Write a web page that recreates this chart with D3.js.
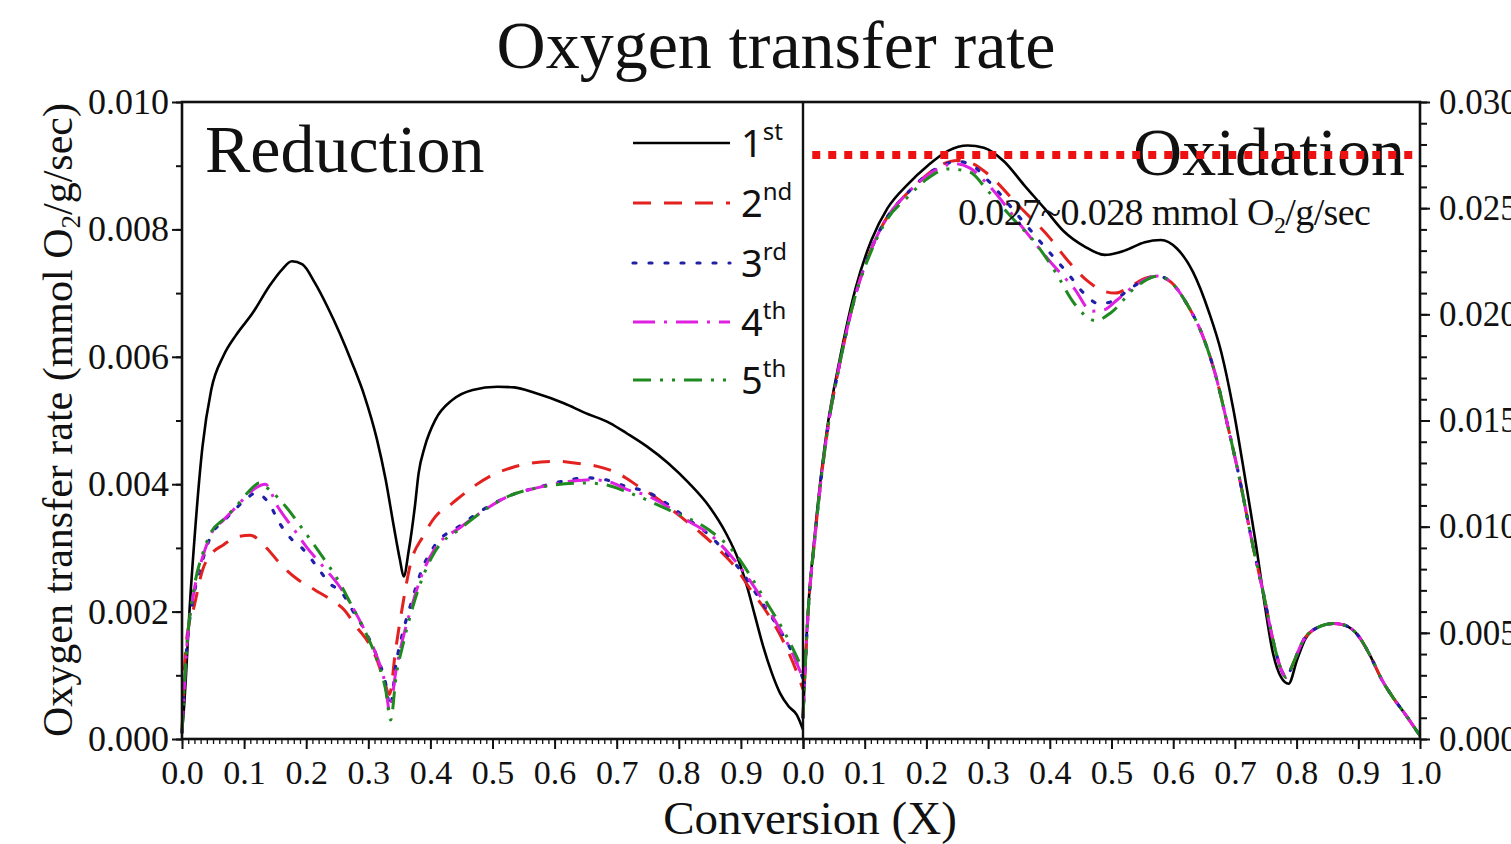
<!DOCTYPE html>
<html>
<head>
<meta charset="utf-8">
<script src="https://cdn.jsdelivr.net/npm/d3@7"></script>
<style>
  body { margin: 0; background: #fff; }
  svg { display: block; }
</style>
</head>
<body>
<svg id="chart" width="1511" height="844" font-family="'Liberation Serif', 'Times New Roman', serif"></svg>
<script>
// rates in 1e-3 mmol O2/g/sec, conversion X in 0..1
const reduction1st = [[0,0.1],[0.004,0.6],[0.0067,1.05],[0.012,2.0],[0.02,3.13],[0.033,4.59],[0.047,5.48],[0.067,6.02],[0.087,6.34],[0.114,6.69],[0.14,7.1],[0.161,7.37],[0.177,7.5],[0.194,7.45],[0.214,7.16],[0.234,6.79],[0.254,6.37],[0.274,5.9],[0.294,5.38],[0.314,4.7],[0.328,4.07],[0.341,3.34],[0.351,2.81],[0.357,2.55],[0.365,2.95],[0.375,3.65],[0.381,4.17],[0.391,4.59],[0.408,5.01],[0.435,5.32],[0.468,5.48],[0.508,5.53],[0.535,5.52],[0.569,5.43],[0.615,5.27],[0.649,5.12],[0.689,4.96],[0.716,4.8],[0.749,4.59],[0.783,4.33],[0.816,4.02],[0.849,3.65],[0.876,3.23],[0.896,2.81],[0.91,2.39],[0.923,1.92],[0.936,1.45],[0.95,1.03],[0.963,0.72],[0.977,0.51],[0.99,0.38],[1.0,0.15]];
const reduction2nd = [[0,0.1],[0.0067,1.5],[0.02,2.1],[0.033,2.65],[0.047,2.9],[0.067,3.05],[0.087,3.17],[0.11,3.2],[0.134,3.02],[0.161,2.72],[0.187,2.5],[0.214,2.34],[0.241,2.18],[0.261,2.03],[0.281,1.76],[0.301,1.5],[0.314,1.24],[0.326,0.9],[0.334,0.7],[0.344,1.4],[0.355,2.08],[0.368,2.75],[0.388,3.18],[0.408,3.49],[0.435,3.7],[0.462,3.91],[0.495,4.12],[0.528,4.25],[0.562,4.33],[0.602,4.36],[0.635,4.33],[0.669,4.28],[0.702,4.17],[0.736,3.96],[0.769,3.75],[0.803,3.49],[0.836,3.23],[0.87,2.92],[0.89,2.71],[0.916,2.34],[0.943,1.97],[0.97,1.5],[0.99,1.05],[1.0,0.78]];
const reduction3rd = [[0,0.1],[0.0067,1.3],[0.02,2.3],[0.033,2.8],[0.047,3.2],[0.067,3.42],[0.087,3.62],[0.107,3.8],[0.118,3.86],[0.14,3.7],[0.157,3.39],[0.177,3.13],[0.194,2.99],[0.217,2.71],[0.237,2.45],[0.258,2.29],[0.274,2.03],[0.294,1.71],[0.314,1.29],[0.328,0.87],[0.335,0.5],[0.345,1.2],[0.355,1.65],[0.368,2.1],[0.388,2.7],[0.408,3.05],[0.448,3.35],[0.488,3.62],[0.528,3.82],[0.569,3.94],[0.615,4.05],[0.649,4.1],[0.682,4.07],[0.716,3.96],[0.749,3.88],[0.783,3.68],[0.816,3.44],[0.849,3.2],[0.876,2.92],[0.903,2.6],[0.93,2.2],[0.957,1.8],[0.983,1.35],[1.0,0.95]];
const reduction4th = [[0,0.1],[0.0067,1.3],[0.02,2.35],[0.033,2.85],[0.047,3.22],[0.067,3.44],[0.087,3.64],[0.107,3.85],[0.12,3.95],[0.134,4.0],[0.154,3.65],[0.181,3.28],[0.2,3.02],[0.227,2.71],[0.254,2.39],[0.274,2.08],[0.294,1.71],[0.314,1.29],[0.328,0.82],[0.334,0.45],[0.345,1.1],[0.355,1.55],[0.368,2.02],[0.388,2.62],[0.408,3.0],[0.448,3.32],[0.488,3.6],[0.528,3.82],[0.575,3.95],[0.63,4.05],[0.66,4.07],[0.69,4.03],[0.716,3.92],[0.749,3.82],[0.783,3.64],[0.816,3.42],[0.849,3.22],[0.88,2.92],[0.91,2.55],[0.937,2.15],[0.963,1.72],[0.985,1.3],[1.0,0.95]];
const reduction5th = [[0,0.1],[0.0067,1.3],[0.02,2.4],[0.033,2.9],[0.047,3.25],[0.067,3.45],[0.087,3.65],[0.107,3.88],[0.125,4.02],[0.14,3.92],[0.167,3.65],[0.194,3.3],[0.227,2.85],[0.254,2.45],[0.274,2.08],[0.294,1.71],[0.314,1.24],[0.328,0.77],[0.336,0.3],[0.345,1.0],[0.355,1.45],[0.368,1.95],[0.388,2.55],[0.408,2.95],[0.448,3.3],[0.488,3.6],[0.528,3.82],[0.582,3.96],[0.649,4.02],[0.682,3.99],[0.716,3.88],[0.783,3.6],[0.849,3.28],[0.89,2.92],[0.916,2.55],[0.943,2.12],[0.97,1.68],[1.0,1.08]];

const oxidation1st = [[0,1.0],[0.0065,5.25],[0.02,9.9],[0.039,14.6],[0.059,17.8],[0.085,21.2],[0.111,23.5],[0.137,25.0],[0.169,26.1],[0.202,27.0],[0.235,27.7],[0.267,27.95],[0.293,27.85],[0.326,27.2],[0.358,26.1],[0.391,25.0],[0.423,23.9],[0.456,23.2],[0.489,22.8],[0.521,23.0],[0.554,23.4],[0.58,23.5],[0.606,23.1],[0.632,22.0],[0.658,20.1],[0.678,18.2],[0.697,15.6],[0.717,12.2],[0.736,8.8],[0.749,6.2],[0.762,4.0],[0.775,2.9],[0.787,2.6],[0.801,3.75],[0.814,4.7],[0.834,5.25],[0.86,5.44],[0.879,5.35],[0.899,4.9],[0.919,3.94],[0.938,2.8],[0.958,1.88],[0.977,1.13],[1.0,0.15]];
const oxidation2nd = [[0,1.0],[0.0065,5.1],[0.02,9.7],[0.039,14.4],[0.059,17.6],[0.085,20.9],[0.111,23.1],[0.137,24.6],[0.169,25.7],[0.202,26.6],[0.225,27.05],[0.25,27.25],[0.275,27.1],[0.3,26.6],[0.35,25.1],[0.4,23.6],[0.43,22.5],[0.46,21.6],[0.487,21.1],[0.506,21.0],[0.53,21.3],[0.555,21.7],[0.575,21.8],[0.597,21.5],[0.623,20.45],[0.649,18.9],[0.669,17.1],[0.688,14.8],[0.708,12.2],[0.727,9.4],[0.747,6.75],[0.763,4.5],[0.776,3.2],[0.783,2.9],[0.795,3.6],[0.81,4.6],[0.834,5.25],[0.86,5.44],[0.879,5.35],[0.899,4.9],[0.919,3.94],[0.938,2.8],[0.958,1.88],[0.977,1.13],[1.0,0.15]];
const oxidation3rd = [[0,1.0],[0.0065,5.1],[0.02,9.7],[0.039,14.4],[0.059,17.6],[0.085,20.9],[0.111,23.1],[0.137,24.6],[0.169,25.7],[0.202,26.6],[0.225,27.0],[0.25,27.2],[0.275,27.0],[0.3,26.3],[0.35,24.6],[0.4,22.9],[0.43,21.9],[0.455,21.0],[0.48,20.5],[0.5,20.6],[0.53,21.2],[0.555,21.65],[0.575,21.8],[0.597,21.5],[0.623,20.45],[0.649,18.9],[0.669,17.1],[0.688,14.8],[0.708,12.2],[0.727,9.4],[0.747,6.75],[0.763,4.5],[0.776,3.2],[0.783,2.9],[0.795,3.6],[0.81,4.6],[0.834,5.25],[0.86,5.44],[0.879,5.35],[0.899,4.9],[0.919,3.94],[0.938,2.8],[0.958,1.88],[0.977,1.13],[1.0,0.15]];
const oxidation4th = [[0,1.0],[0.0065,5.1],[0.02,9.7],[0.039,14.4],[0.059,17.6],[0.085,20.9],[0.111,23.1],[0.137,24.6],[0.169,25.7],[0.202,26.55],[0.225,26.95],[0.245,27.1],[0.27,26.9],[0.3,26.1],[0.35,24.3],[0.4,22.5],[0.44,21.2],[0.468,20.15],[0.487,20.2],[0.51,20.7],[0.54,21.4],[0.575,21.8],[0.597,21.5],[0.623,20.45],[0.649,18.9],[0.669,17.1],[0.688,14.8],[0.708,12.2],[0.727,9.4],[0.747,6.75],[0.763,4.5],[0.776,3.2],[0.783,2.9],[0.795,3.6],[0.81,4.6],[0.834,5.25],[0.86,5.44],[0.879,5.35],[0.899,4.9],[0.919,3.94],[0.938,2.8],[0.958,1.88],[0.977,1.13],[1.0,0.15]];
const oxidation5th = [[0,1.0],[0.0065,5.1],[0.02,9.7],[0.039,14.4],[0.059,17.6],[0.085,20.9],[0.111,23.0],[0.137,24.5],[0.169,25.5],[0.202,26.4],[0.235,26.85],[0.27,26.7],[0.3,25.8],[0.35,24.2],[0.37,23.6],[0.41,21.95],[0.44,20.5],[0.474,19.7],[0.5,20.1],[0.54,21.3],[0.575,21.8],[0.597,21.5],[0.623,20.45],[0.649,18.9],[0.669,17.1],[0.688,14.8],[0.708,12.2],[0.727,9.4],[0.747,6.75],[0.763,4.5],[0.776,3.2],[0.783,2.9],[0.795,3.6],[0.81,4.6],[0.834,5.25],[0.86,5.44],[0.879,5.35],[0.899,4.9],[0.919,3.94],[0.938,2.8],[0.958,1.88],[0.977,1.13],[1.0,0.15]];

const cycleNumbers = ["1", "2", "3", "4", "5"];
const cycleSuffixes = ["st", "nd", "rd", "th", "th"];
const capacityLine = 27.5;   // 0.0275 mmol O2/g/sec, red dotted guide
const leftYTicks = [0, 2, 4, 6, 8, 10];
const rightYTicks = [0, 5, 10, 15, 20, 25, 30];
const xTicks = [0, 0.1, 0.2, 0.3, 0.4, 0.5, 0.6, 0.7, 0.8, 0.9, 1.0];

const reductionSeries = [reduction1st, reduction2nd, reduction3rd, reduction4th, reduction5th];
const oxidationSeries = [oxidation1st, oxidation2nd, oxidation3rd, oxidation4th, oxidation5th];

// line styles per cycle
const styles = [
  { color: "#000000", dash: null, width: 2.6 },
  { color: "#e3211f", dash: "18 13", width: 3 },
  { color: "#1f1fa8", dash: "3 13", width: 3.2 },
  { color: "#e020e0", dash: "22 9 3 9", width: 3 },
  { color: "#1f8a1f", dash: "18 9 3 9 3 9", width: 3 }
];

const svg = d3.select("#chart");
const box = { left: 182, mid: 803, right: 1420, top: 102, bottom: 739 };

const xRed = d3.scaleLinear([0, 1], [box.left, box.mid]);
const xOx = d3.scaleLinear([0, 1], [box.mid, box.right]);
const yRed = d3.scaleLinear([0, 10], [box.bottom, box.top]);
const yOx = d3.scaleLinear([0, 30], [box.bottom, box.top]);

svg.append("rect").attr("width", 1511).attr("height", 844).attr("fill", "#fff");

const fmt = d => (d / 1000).toFixed(3);
const serif = "'Liberation Serif', 'Times New Roman', serif";

function styleAxis(g, fontSize) {
  g.select(".domain").remove();
  g.selectAll(".tick line").attr("stroke", "#111").attr("stroke-width", 2);
  g.selectAll(".tick text").attr("font-size", fontSize).attr("fill", "#111")
    .attr("font-family", serif);
}

// minor ticks
svg.append("g").attr("transform", `translate(${box.left},0)`)
  .call(d3.axisLeft(yRed).tickValues(d3.range(0, 10.01, 1)).tickSize(6).tickFormat(""))
  .call(g => styleAxis(g, 0));
svg.append("g").attr("transform", `translate(${box.right},0)`)
  .call(d3.axisRight(yOx).tickValues(d3.range(0, 30.01, 1)).tickSize(7).tickFormat(""))
  .call(g => styleAxis(g, 0));
[xRed, xOx].forEach(x => {
  svg.append("g").attr("transform", `translate(0,${box.bottom})`)
    .call(d3.axisBottom(x).tickValues(d3.range(0, 1.001, 0.01)).tickSize(5).tickFormat(""))
    .call(g => { styleAxis(g, 0); g.selectAll(".tick line").attr("stroke-width", 1.3); });
});

// major ticks with labels (right labels run past the edge, as in the source figure)
svg.append("g").attr("transform", `translate(${box.left},0)`)
  .call(d3.axisLeft(yRed).tickValues(leftYTicks).tickSize(10).tickPadding(3).tickFormat(fmt))
  .call(g => styleAxis(g, 36));
svg.append("g").attr("transform", `translate(${box.right},0)`)
  .call(d3.axisRight(yOx).tickValues(rightYTicks).tickSize(10).tickPadding(9).tickFormat(fmt))
  .call(g => styleAxis(g, 35));
svg.append("g").attr("transform", `translate(0,${box.bottom})`)
  .call(d3.axisBottom(xRed).tickValues(xTicks).tickSize(10).tickPadding(11)
    .tickFormat(d => d < 0.95 ? d.toFixed(1) : ""))
  .call(g => styleAxis(g, 34));
svg.append("g").attr("transform", `translate(0,${box.bottom})`)
  .call(d3.axisBottom(xOx).tickValues(xTicks).tickSize(10).tickPadding(11)
    .tickFormat(d => d.toFixed(1)))
  .call(g => styleAxis(g, 34));

// curves
function drawPanel(series, x, y) {
  const line = d3.line().x(d => x(d[0])).y(d => y(d[1])).curve(d3.curveMonotoneX);
  series.forEach((data, i) => {
    const s = styles[i];
    svg.append("path").datum(data)
      .attr("d", line)
      .attr("fill", "none")
      .attr("stroke", s.color)
      .attr("stroke-width", s.width)
      .attr("stroke-dasharray", s.dash)
      .attr("stroke-linecap", i === 2 ? "round" : "butt")
      .attr("stroke-linejoin", "round");
  });
}
drawPanel(reductionSeries, xRed, yRed);
drawPanel(oxidationSeries, xOx, yOx);

// frame and divider
svg.append("rect")
  .attr("x", box.left).attr("y", box.top)
  .attr("width", box.right - box.left).attr("height", box.bottom - box.top)
  .attr("fill", "none").attr("stroke", "#111").attr("stroke-width", 2.6);
svg.append("line")
  .attr("x1", box.mid).attr("x2", box.mid).attr("y1", box.top).attr("y2", box.bottom)
  .attr("stroke", "#111").attr("stroke-width", 2.4);

// titles
svg.append("text").attr("x", 776).attr("y", 68).attr("text-anchor", "middle")
  .attr("font-size", 68).attr("fill", "#111").text("Oxygen transfer rate");
svg.append("text").attr("x", 205).attr("y", 172).attr("font-size", 68)
  .attr("fill", "#111").text("Reduction");
svg.append("text").attr("x", 1405).attr("y", 175).attr("text-anchor", "end")
  .attr("font-size", 68).attr("fill", "#111").text("Oxidation");

// annotation
const note = svg.append("text").attr("x", 958).attr("y", 225).attr("font-size", 38)
  .attr("letter-spacing", -0.6).attr("fill", "#111");
note.append("tspan").text("0.027~0.028 mmol O");
note.append("tspan").attr("font-size", 24).attr("dy", 8).text("2");
note.append("tspan").attr("dy", -8).text("/g/sec");

// capacity guide line
svg.append("line")
  .attr("x1", xOx(0.015)).attr("x2", xOx(1))
  .attr("y1", yOx(capacityLine)).attr("y2", yOx(capacityLine))
  .attr("stroke", "#ee1111").attr("stroke-width", 8).attr("stroke-dasharray", "8 8");

// axis titles
const yLab = svg.append("text")
  .attr("transform", "translate(72,420) rotate(-90)")
  .attr("text-anchor", "middle").attr("font-size", 42).attr("fill", "#111");
yLab.append("tspan").text("Oxygen transfer rate (mmol O");
yLab.append("tspan").attr("font-size", 27).attr("dy", 8).text("2");
yLab.append("tspan").attr("dy", -8).text("/g/sec)");

svg.append("text").attr("x", 810).attr("y", 834).attr("text-anchor", "middle")
  .attr("font-size", 47).attr("fill", "#111").text("Conversion (X)");

// legend
const legend = svg.append("g");
const rowY = [143, 203, 263, 322, 380];
cycleNumbers.forEach((n, i) => {
  const s = styles[i];
  legend.append("line")
    .attr("x1", 633).attr("x2", 730).attr("y1", rowY[i]).attr("y2", rowY[i])
    .attr("stroke", s.color).attr("stroke-width", s.width)
    .attr("stroke-dasharray", s.dash)
    .attr("stroke-linecap", i === 2 ? "round" : "butt");
  const t = legend.append("text").attr("x", 741).attr("y", rowY[i] + 14)
    .attr("font-family", "'Noto Sans', sans-serif").attr("font-size", 38).attr("fill", "#111");
  t.append("tspan").text(n);
  t.append("tspan").attr("font-size", 24).attr("dy", -17).text(cycleSuffixes[i]);
});
</script>
</body>
</html>
